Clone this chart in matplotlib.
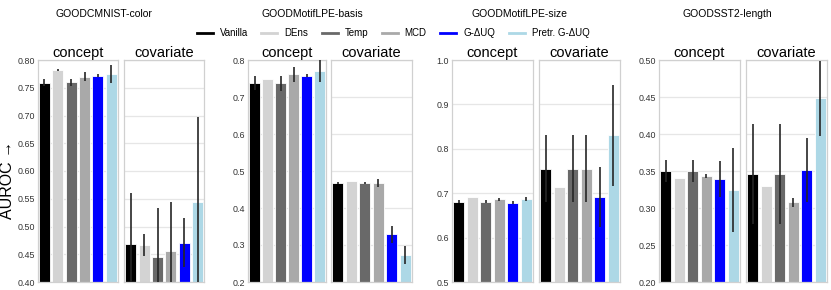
import matplotlib
matplotlib.use("Agg")
import matplotlib.pyplot as plt
from matplotlib.lines import Line2D
import numpy as np

plt.rcParams['font.family'] = ['Liberation Sans', 'DejaVu Sans']

# dados
methods = ["Vanilla", "DEns", "Temp", "MCD", "G-ΔUQ", "Pretr. G-ΔUQ"]
colors = ["#000000", "#d3d3d3", "#696969", "#a9a9a9", "#0000ff", "#add8e6"]
datasets = ["GOODCMNIST-color", "GOODMotifLPE-basis", "GOODMotifLPE-size", "GOODSST2-length"]
shifts = ["concept", "covariate"]

cmnist_concept = [0.759, 0.782, 0.760, 0.770, 0.772, 0.775]
cmnist_concept_err = [0.006, 0.001, 0.006, 0.008, 0.0025, 0.0165]
cmnist_covariate = [0.469, 0.466, 0.445, 0.455, 0.471, 0.544]
cmnist_covariate_err = [0.092, 0.02, 0.089, 0.089, 0.044, 0.153]

basis_concept = [0.737, 0.748, 0.737, 0.761, 0.758, 0.770]
basis_concept_err = [0.019, 0.0, 0.02, 0.02, 0.005, 0.03]
basis_covariate = [0.468, 0.472, 0.468, 0.468, 0.329, 0.273]
basis_covariate_err = [0.002, 0.0, 0.002, 0.01, 0.023, 0.025]

size_concept = [0.681, 0.692, 0.681, 0.686, 0.679, 0.687]
size_concept_err = [0.003, 0.0, 0.003, 0.003, 0.004, 0.004]
size_covariate = [0.755, 0.715, 0.755, 0.755, 0.691, 0.830]
size_covariate_err = [0.075, 0.0, 0.075, 0.075, 0.068, 0.114]

sst2_concept = [0.350, 0.340, 0.350, 0.343, 0.339, 0.324]
sst2_concept_err = [0.015, 0.0, 0.015, 0.003, 0.024, 0.057]
sst2_covariate = [0.346, 0.330, 0.346, 0.308, 0.351, 0.448]
sst2_covariate_err = [0.067, 0.0, 0.067, 0.006, 0.043, 0.051]

values = [
    (cmnist_concept, cmnist_concept_err, cmnist_covariate, cmnist_covariate_err),
    (basis_concept, basis_concept_err, basis_covariate, basis_covariate_err),
    (size_concept, size_concept_err, size_covariate, size_covariate_err),
    (sst2_concept, sst2_concept_err, sst2_covariate, sst2_covariate_err),
]
ylims = [(0.40, 0.80), (0.2, 0.8), (0.5, 1.0), (0.20, 0.50)]
ysteps = [0.05, 0.1, 0.1, 0.05]
yfmts = ["%.2f", "%.1f", "%.1f", "%.2f"]

# posicoes dos eixos em pixels (esq, dir) para concept e covariate
W, H = 831, 290
boxes = [
    ((37.7, 118), (124, 204.5)),
    ((248, 326), (331, 412)),
    ((452, 533), (539, 620)),
    ((659, 740), (746, 827)),
]
top, bottom = 60, 282
title_x = [104, 312, 519, 727]

fig = plt.figure(figsize=(W / 100, H / 100), dpi=100)
x = np.arange(len(methods))

for g in range(4):
    c, ce, v, ve = values[g]
    lo, hi = ylims[g]
    ticks = np.arange(lo, hi + 1e-9, ysteps[g])
    for k in range(2):
        l, r = boxes[g][k]
        ax = fig.add_axes([l / W, (H - bottom) / H, (r - l) / W, (bottom - top) / H])
        ys = c if k == 0 else v
        es = ce if k == 0 else ve
        ax.bar(x, ys, width=0.82, color=colors, edgecolor="white", linewidth=0.6, zorder=2)
        ax.errorbar(x, ys, yerr=es, fmt="none", ecolor="#262626", elinewidth=1.2, zorder=3)
        ax.set_xlim(-0.5, 5.5)
        ax.set_ylim(lo, hi)
        ax.set_yticks(ticks)
        ax.yaxis.set_major_formatter(matplotlib.ticker.FormatStrFormatter(yfmts[g]))
        ax.set_xticks([])
        ax.grid(axis="y", color="#e6e6e6", linewidth=0.9, zorder=0)
        ax.set_axisbelow(True)
        for s in ax.spines.values():
            s.set_color("#d0d0d0")
            s.set_linewidth(0.9)
        ax.tick_params(axis="y", length=0, labelsize=6.4, labelcolor="#333333", pad=2.2)
        if k == 1:
            ax.tick_params(axis="y", labelleft=False)
        ax.set_title(shifts[k], fontsize=10.5, pad=2)
    fig.text(title_x[g] / W, 1 - 14 / H, datasets[g], ha="center", va="center", fontsize=7.5)

fig.text(8 / W, 1 - 180 / H, "AUROC →", rotation=90, ha="center", va="center", fontsize=11.5)

handles = [Line2D([0], [0], color=col, lw=2) for col in colors]
fig.legend(handles, methods, loc="center", bbox_to_anchor=(393 / W, 1 - 33 / H), ncol=6,
           frameon=False, fontsize=7, handlelength=1.65, handletextpad=0.7, columnspacing=1.4)

fig.savefig("out.png", dpi=100)
